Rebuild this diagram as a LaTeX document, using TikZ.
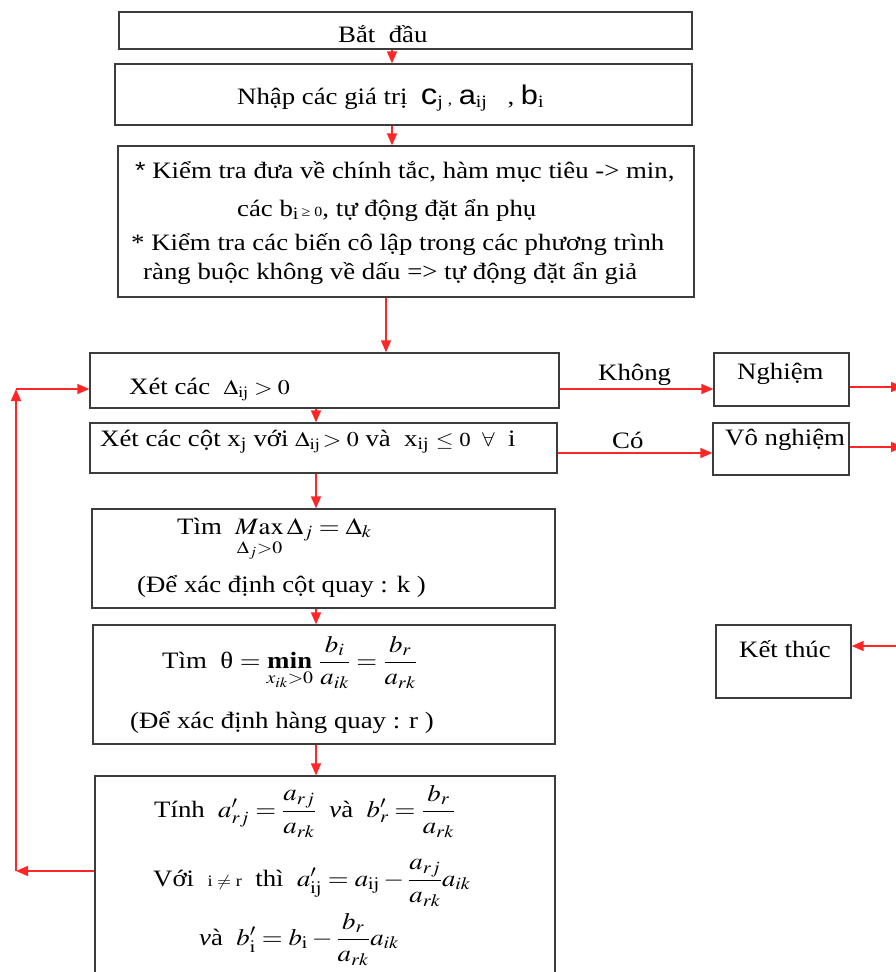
\documentclass[tikz,border=0pt]{standalone}
\usepackage{amsmath}
\usepackage{mathptmx}
\usepackage{fontspec}
\setmainfont{Liberation Serif}
\newfontfamily\arialf{Liberation Sans}
\usetikzlibrary{arrows.meta}
\definecolor{ared}{HTML}{FF2626}
\definecolor{bgray}{HTML}{3C3C3C}
\newcommand{\sx}[1]{\scalebox{1.14}[1]{#1}}
\newcommand{\fs}[1]{\fontsize{#1}{#1}\selectfont}
\begin{document}
\begin{tikzpicture}[x=1pt,y=-1pt,
  box/.style={draw=bgray, line width=1.3pt, inner sep=0pt},
  arr/.style={draw=ared, line width=1.6pt, -{Triangle[length=12pt,width=10pt]}},
  lbl/.style={anchor=base west, inner sep=0pt, font=\fs{23.5}}]
\useasboundingbox (0,0) rectangle (896,972);
\clip (0,0) rectangle (896,972);
% boxes
\node[box, minimum width=573pt, minimum height=37pt] (b1) at (405.5,30.5) {};
\node[box, minimum width=577pt, minimum height=61pt] (b2) at (403.5,94.5) {};
\node[box, minimum width=576pt, minimum height=151pt] (b3) at (406,221.5) {};
\node[box, minimum width=469pt, minimum height=55pt] (b4) at (324.5,380.5) {};
\node[box, minimum width=467pt, minimum height=50pt] (b5) at (323.5,448) {};
\node[box, minimum width=463pt, minimum height=99pt] (b6) at (323.5,558.5) {};
\node[box, minimum width=462pt, minimum height=119pt] (b7) at (324,684.5) {};
\node[box, minimum width=460pt, minimum height=224pt] (b8) at (325,888) {};
\node[box, minimum width=135pt, minimum height=53pt] (n1) at (781.5,379.5) {};
\node[box, minimum width=136pt, minimum height=52pt] (n2) at (781,449) {};
\node[box, minimum width=135pt, minimum height=73pt] (n3) at (783.5,661.5) {};
% helper coordinates
\coordinate (x392) at (392,0);
\coordinate (x386) at (386,0);
\coordinate (x316) at (316,0);
\coordinate (y389) at (0,389);
\coordinate (y453) at (0,453);
\coordinate (e1) at (903,387);
\coordinate (e2) at (903,447);
\coordinate (e3) at (903,646);
\coordinate (lb) at (16,871);
\coordinate (lt) at (16,389);
% arrows
\draw[arr] (b1.south -| x392) -- (b2.north -| x392);
\draw[arr] (b2.south -| x392) -- (b3.north -| x392);
\draw[arr] (b3.south -| x386) -- (b4.north -| x386);
\draw[arr] (b4.south -| x316) -- (b5.north -| x316);
\draw[arr] (b5.south -| x316) -- (b6.north -| x316);
\draw[arr] (b6.south -| x316) -- (b7.north -| x316);
\draw[arr] (b7.south -| x316) -- (b8.north -| x316);
\draw[arr] (b4.east |- y389) -- (n1.west |- y389);
\draw[arr] (b5.east |- y453) -- (n2.west |- y453);
\draw[arr] (n1.east |- e1) -- (e1);
\draw[arr] (n2.east |- e2) -- (e2);
\draw[arr] (e3) -- (n3.east |- e3);
\draw[arr] (b8.west |- lb) -- (lb);
\draw[arr] (lb) -- (lt);
\draw[arr] (lt) -- (b4.west |- lt);
% texts
\node[lbl] (t1) at (338,42) {\sx{Bắt\ \ đầu}};
\node[lbl] (t2) at (237,104) {\sx{Nhập các giá trị\ \ {\arialf\fs{29}c}\textsubscript{j}{\fs{15} ,} {\arialf\fs{27}a}\textsubscript{ij}\ \ \ , {\arialf\fs{27}b}\textsubscript{i}}};
\node[lbl] (t3a) at (135,178) {\sx{{\arialf *}\ Kiểm tra đưa về chính tắc, hàm mục tiêu -> min,}};
\node[lbl] (t3b) at (237,216) {\sx{các b\textsubscript{i}{\fs{14}\,≥ 0}, tự động đặt ẩn phụ}};
\node[lbl] (t3c) at (131,250) {\sx{* Kiểm tra các biến cô lập trong các phương trình}};
\node[lbl] (t3d) at (143,279) {\sx{ràng buộc không về dấu => tự động đặt ẩn giả}};
\node[lbl] (t4) at (129,394) {\sx{Xét các\ \ {\fs{21}$\Delta_{\mathrm{ij}} > 0$}}};
\node[lbl] (t5) at (100,446) {\sx{Xét các cột x\textsubscript{j} với {\fs{21}$\Delta_{\mathrm{ij}}\!>0$} và\ \ x\textsubscript{ij}\ {\fs{20}$\le$\ 0\ \ $\forall$}\ \ i}};
\node[lbl] (k1) at (598,380) {\sx{Không}};
\node[lbl] (k2) at (612,448) {\sx{Có}};
\node[lbl] (tn1) at (737,379) {\sx{Nghiệm}};
\node[lbl] (tn2) at (725,445) {\sx{Vô nghiệm}};
\node[lbl] (tn3) at (739,657) {\sx{Kết thúc}};
\node[lbl] (t6a) at (177,534) {\sx{Tìm\ \ $\mathop{M\mathrm{ax}}\limits_{\raisebox{-5pt}{$\scriptstyle\Delta_j>0$}}\Delta_j = \Delta_k$}};
\node[lbl] (t6b) at (137,592) {\sx{(Để xác định cột quay : k )}};
\node[lbl] (t7a) at (162,668) {\sx{Tìm\ \ θ $= \mathop{\mathbf{min}}\limits_{x_{ik}>0}\,\dfrac{b_i}{a_{ik}} = \dfrac{b_r}{a_{rk}}$}};
\node[lbl] (t7b) at (130,728) {\sx{(Để xác định hàng quay : r )}};
\node[lbl] (t8a) at (154,817) {\sx{Tính\ \ $a'_{rj} = \dfrac{a_{rj}}{a_{rk}}$\ \ \textit{v}à\ \ $b'_r = \dfrac{b_r}{a_{rk}}$}};
\node[lbl] (t8b) at (153,886) {\sx{Với\ \ {\fs{16}i $\ne$ r}\ \ thì\ \ $a'_{\mathrm{ij}} = a_{\mathrm{ij}} - \dfrac{a_{rj}}{a_{rk}}a_{ik}$}};
\node[lbl] (t8c) at (199,945) {\sx{\textit{v}à\ \ $b'_{\mathrm{i}} = b_{\mathrm{i}} - \dfrac{b_r}{a_{rk}}a_{ik}$}};
\end{tikzpicture}
\end{document}
